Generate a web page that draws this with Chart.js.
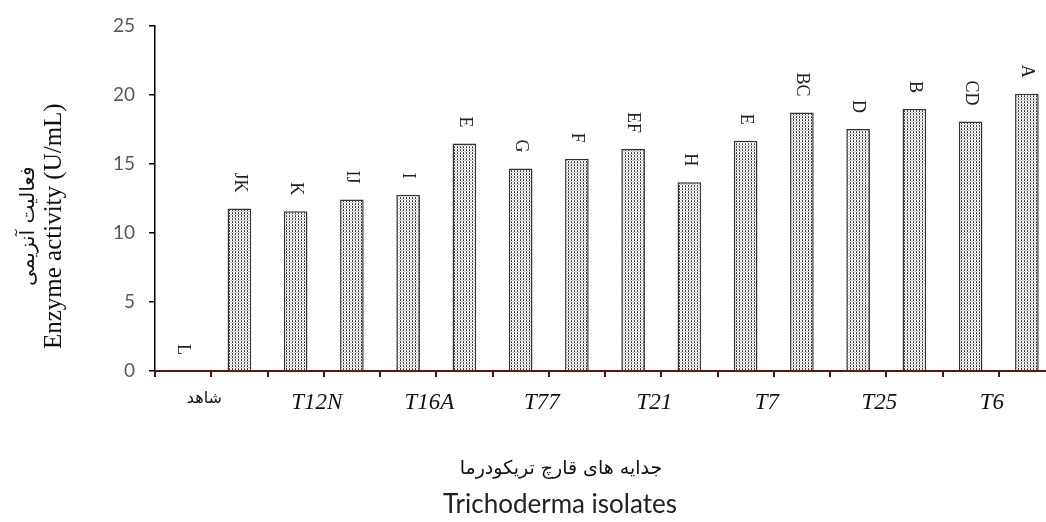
<!DOCTYPE html>
<html>
<head>
<meta charset="utf-8">
<script src="https://cdn.jsdelivr.net/npm/chart.js@4.4.1/dist/chart.umd.min.js"></script>
<style>
  html, body { margin: 0; padding: 0; background: #fff; overflow: hidden; }
  #wrap { width: 1062px; height: 522px; }
</style>
</head>
<body>
<div id="wrap"><canvas id="chart" width="1062" height="522"></canvas></div>
<script>
// isolate names, one per pair of bars
const isolates = ['شاهد', 'T12N', 'T16A', 'T77', 'T21', 'T7', 'T25', 'T6'];
// enzyme activity (U/mL), 16 bars
const activity = [0, 11.75, 11.55, 12.4, 12.75, 16.45, 14.65, 15.35, 16.05, 13.65, 16.65, 18.7, 17.5, 18.95, 18.05, 20.05];
// Duncan letters above bars
const letters = ['L', 'JK', 'K', 'IJ', 'I', 'E', 'G', 'F', 'EF', 'H', 'E', 'BC', 'D', 'B', 'CD', 'A'];
const yTicks = [0, 5, 10, 15, 20, 25];

// one label at every second category
const labels = activity.map((v, i) => i % 2 === 1 ? isolates[(i - 1) / 2] : '');

// stippled fill
function makePattern() {
    const c = document.createElement('canvas');
    c.width = 3; c.height = 3;
    const g = c.getContext('2d');
    g.fillStyle = '#ffffff';
    g.fillRect(0, 0, 3, 3);
    g.fillStyle = '#2a2a2a';
    g.fillRect(1, 0, 1, 1);
    g.fillStyle = '#555';
    g.fillRect(1, 2, 1, 1);
    g.fillStyle = '#c8c8c8';
    g.fillRect(0, 1, 1, 1);
    g.fillRect(2, 1, 1, 1);
    return document.getElementById('chart').getContext('2d').createPattern(c, 'repeat');
}

// letters rotated 90 deg above each bar
const letterPlugin = {
    id: 'letters',
    afterDatasetsDraw(chart) {
        const ctx = chart.ctx;
        const meta = chart.getDatasetMeta(0);
        ctx.save();
        ctx.font = '18px "Liberation Serif", serif';
        ctx.fillStyle = '#222';
        ctx.textAlign = 'right';
        ctx.textBaseline = 'middle';
        meta.data.forEach((bar, i) => {
            ctx.save();
            ctx.translate(bar.x, bar.y - 16);
            ctx.rotate(Math.PI / 2);
            ctx.fillText(letters[i], 0, 0);
            ctx.restore();
        });
        ctx.restore();
    }
};

// axis titles in two scripts
const titlePlugin = {
    id: 'titles',
    afterDraw(chart) {
        const ctx = chart.ctx;
        const area = chart.chartArea;
        const midY = (area.top + area.bottom) / 2 + 28;
        ctx.save();
        ctx.fillStyle = '#111';
        ctx.textAlign = 'center';
        ctx.textBaseline = 'middle';
        ctx.save();
        ctx.translate(29, midY);
        ctx.rotate(-Math.PI / 2);
        ctx.font = '20px "DejaVu Sans", sans-serif';
        ctx.fillText('فعالیت آنزیمی', 0, 0);
        ctx.restore();
        ctx.save();
        ctx.translate(54, midY);
        ctx.rotate(-Math.PI / 2);
        ctx.font = '25px "Liberation Serif", serif';
        ctx.fillText('Enzyme activity (U/mL)', 0, 0);
        ctx.restore();
        ctx.font = '19px "DejaVu Sans", sans-serif';
        ctx.fillText('جدایه های قارچ تریکودرما', 561, 469);
        ctx.font = '26px Lato, sans-serif';
        ctx.fillStyle = '#222';
        ctx.fillText('Trichoderma isolates', 560, 505);
        ctx.restore();
    }
};

new Chart(document.getElementById('chart'), {
    type: 'bar',
    data: {
        labels: labels,
        datasets: [{
            data: activity,
            backgroundColor: makePattern(),
            borderColor: '#333',
            borderWidth: 1.5,
            barPercentage: 0.42,
            categoryPercentage: 1
        }]
    },
    options: {
        responsive: false,
        animation: false,
        layout: { padding: { top: 22, right: 7, left: 0, bottom: 0 } },
        plugins: {
            legend: { display: false },
            tooltip: { enabled: false }
        },
        scales: {
            x: {
                offset: true,
                border: { color: '#5a1414', width: 2 },
                grid: {
                    offset: true,
                    drawOnChartArea: false,
                    color: '#5a1414',
                    lineWidth: 2,
                    tickLength: 6
                },
                ticks: {
                    autoSkip: false,
                    maxRotation: 0,
                    minRotation: 0,
                    labelOffset: -35,
                    padding: 12,
                    color: '#111',
                    font: ctx => ctx.index === 1
                        ? { family: '"DejaVu Sans", sans-serif', size: 16 }
                        : { family: '"Liberation Serif", serif', size: 23, style: 'italic' }
                },
                afterFit: scale => { scale.height = 151; }
            },
            y: {
                min: 0,
                max: 25,
                afterBuildTicks: scale => { scale.ticks = yTicks.map(v => ({ value: v })); },
                border: { color: '#000', width: 1.5 },
                grid: {
                    drawOnChartArea: false,
                    color: '#000',
                    lineWidth: 1.5,
                    tickLength: 6
                },
                ticks: {
                    padding: 14,
                    color: '#595959',
                    font: { family: 'Lato, sans-serif', size: 19 }
                },
                afterFit: scale => { scale.width = 155; }
            }
        }
    },
    plugins: [letterPlugin, titlePlugin]
});
</script>
</body>
</html>
